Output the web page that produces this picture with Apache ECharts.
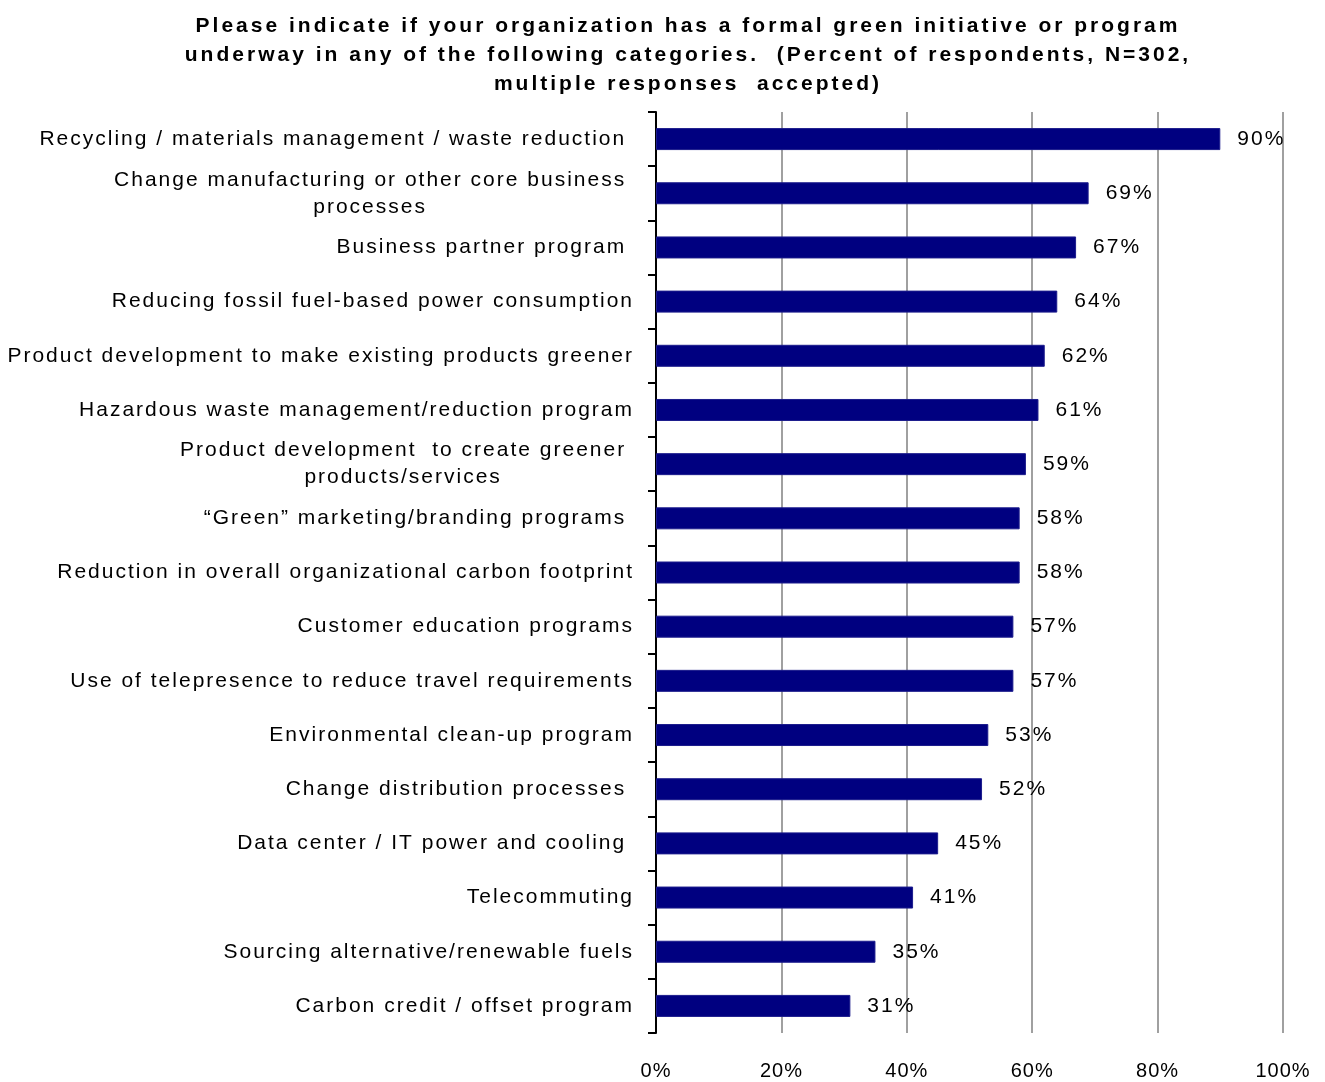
<!DOCTYPE html>
<html>
<head>
<meta charset="utf-8">
<script src="https://cdn.jsdelivr.net/npm/echarts@6/dist/echarts.min.js"></script>
<style>
  html, body { margin: 0; padding: 0; background: #ffffff; }
  #chart { width: 1325px; height: 1082px; }
</style>
</head>
<body>
<div id="chart"></div>
<script>
// Survey categories, listed top to bottom (some carry a trailing space, as typed on the slide)
var categories = [
  'Recycling / materials management / waste reduction ',
  'Change manufacturing or other core business \nprocesses ',
  'Business partner program ',
  'Reducing fossil fuel-based power consumption',
  'Product development to make existing products greener',
  'Hazardous waste management/reduction program',
  'Product development  to create greener \nproducts/services ',
  '\u201cGreen\u201d marketing/branding programs ',
  'Reduction in overall organizational carbon footprint',
  'Customer education programs',
  'Use of telepresence to reduce travel requirements',
  'Environmental clean-up program',
  'Change distribution processes ',
  'Data center / IT power and cooling ',
  'Telecommuting',
  'Sourcing alternative/renewable fuels',
  'Carbon credit / offset program'
];

// Percent of respondents for each category
var percents = [90, 69, 67, 64, 62, 61, 59, 58, 58, 57, 57, 53, 52, 45, 41, 35, 31];

// Value-axis tick labels
var axisTicks = [0, 20, 40, 60, 80, 100];

var titleText = 'Please indicate if your organization has a formal green initiative or program\n' +
  'underway in any of the following categories.  (Percent of respondents, N=302,\n' +
  'multiple responses  accepted)';

var FONT = '"Liberation Sans", Arial, sans-serif';

// Loose, slide-style tracking: widen letter spacing by font (applied to both
// measuring and drawing so ECharts' alignment stays consistent).
(function () {
  var proto = CanvasRenderingContext2D.prototype;
  function spacingFor(font) {
    if (/bold/.test(font)) { return '3px'; }
    if (/21px/.test(font)) { return '2px'; }
    return '1px';
  }
  var origFill = proto.fillText;
  var origMeasure = proto.measureText;
  proto.fillText = function (t, x, y, m) {
    this.letterSpacing = spacingFor(this.font);
    return m === undefined ? origFill.call(this, t, x, y) : origFill.call(this, t, x, y, m);
  };
  proto.measureText = function (t) {
    this.letterSpacing = spacingFor(this.font);
    return origMeasure.call(this, t);
  };
})();

var chart = echarts.init(document.getElementById('chart'), null, { renderer: 'canvas' });

chart.setOption({
  animation: false,
  backgroundColor: '#ffffff',
  title: {
    text: titleText,
    left: 683,
    textAlign: 'center',
    top: 7,
    textStyle: {
      fontFamily: FONT,
      fontSize: 21,
      fontWeight: 'bold',
      color: '#000000',
      lineHeight: 29
    }
  },
  grid: {
    left: 656,
    right: 42,
    top: 112,
    bottom: 45,
    containLabel: false
  },
  xAxis: {
    type: 'value',
    min: axisTicks[0],
    max: axisTicks[axisTicks.length - 1],
    interval: axisTicks[1] - axisTicks[0],
    axisLine: { show: false },
    axisTick: { show: false },
    splitLine: {
      show: true,
      lineStyle: { color: '#a0a0a0', width: 2 }
    },
    axisLabel: {
      margin: 28,
      fontFamily: FONT,
      fontSize: 20,
      color: '#000000',
      formatter: function (v) { return v + '%'; }
    }
  },
  yAxis: {
    type: 'category',
    inverse: true,
    data: categories,
    axisLine: { show: true, lineStyle: { color: '#000000', width: 2 } },
    axisTick: { show: true, length: 8, lineStyle: { color: '#000000', width: 2 } },
    axisLabel: {
      margin: 22,
      fontFamily: FONT,
      fontSize: 21,
      color: '#000000',
      lineHeight: 27,
      formatter: function (v) {
        if (v.indexOf('\n') < 0) { return v; }
        return v.split('\n').map(function (s) { return '{c|' + s + '}'; }).join('\n');
      },
      rich: {
        c: {
          align: 'center',
          fontFamily: FONT,
          fontSize: 21,
          color: '#000000',
          lineHeight: 27
        }
      }
    }
  },
  series: [{
    type: 'bar',
    data: percents,
    barWidth: 22,
    itemStyle: { color: '#000080', borderColor: '#1c1c8c', borderWidth: 1 },
    label: {
      show: true,
      position: 'right',
      distance: 17,
      fontFamily: FONT,
      fontSize: 21,
      color: '#000000',
      formatter: function (p) { return p.value + '%'; }
    }
  }]
});
</script>
</body>
</html>
